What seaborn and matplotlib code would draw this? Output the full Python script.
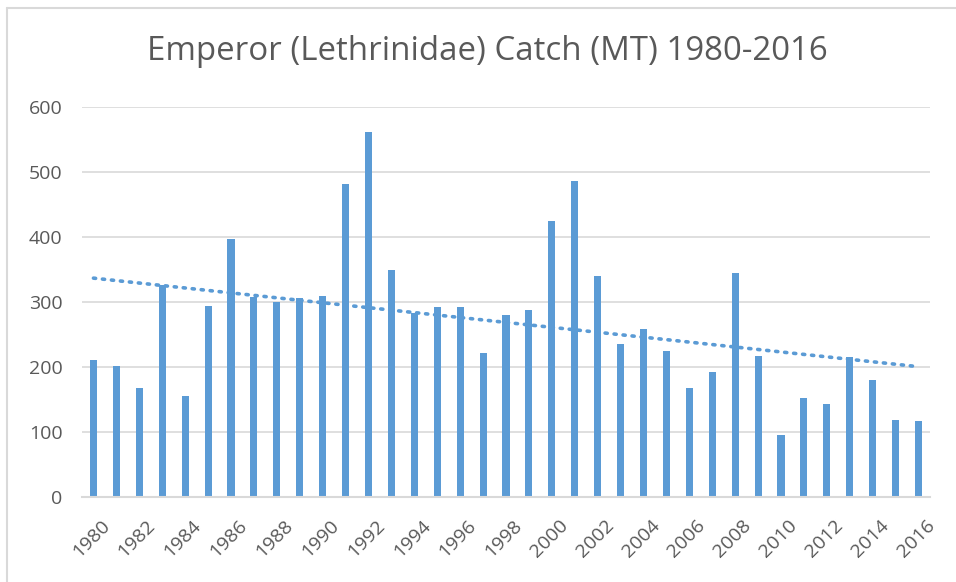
import numpy as np
import pandas as pd
import matplotlib
matplotlib.use("Agg")
import matplotlib.pyplot as plt
import matplotlib.transforms as mtrans
import seaborn as sns

years = list(range(1980, 2017))
catch = [211, 202, 168, 326, 155, 294, 397, 308, 300, 306, 310, 482,
         561, 350, 283, 292, 292, 221, 280, 287, 425, 486, 340, 235,
         259, 225, 168, 192, 344, 217, 95, 152, 143, 216, 180, 119, 117]
title = "Emperor (Lethrinidae) Catch (MT) 1980-2016"
yticks = [0, 100, 200, 300, 400, 500, 600]

BLUE = "#5b9bd5"
GRAY_TXT = "#595959"
GRID = "#d9d9d9"

sns.set_theme(style="white")
plt.rcParams['font.family'] = ['Open Sans', 'DejaVu Sans']

df = pd.DataFrame({"year": [str(y) for y in years], "catch": catch})

fig = plt.figure(figsize=(9.56, 5.82), dpi=100)
ax = fig.add_axes([82/956, 1-497/582, (930-82)/956, (497-107)/582])

sns.barplot(data=df, x="year", y="catch", color=BLUE, width=0.31,
            saturation=1, linewidth=0, ax=ax, zorder=3)

# linear trendline
idx = np.arange(len(years))
coef = np.polyfit(idx, np.array(catch, dtype=float), 1)
trend = np.polyval(coef, idx)
sns.lineplot(x=idx, y=trend, ax=ax, color=BLUE, linestyle=(0, (0.6, 1.9)),
             linewidth=2.6, dash_capstyle="round", zorder=4)

ax.set_xlim(-0.5, len(years) - 0.5)
ax.set_ylim(0, 600)
ax.set_yticks(yticks)
ax.set_yticklabels([str(t) for t in yticks])
ax.yaxis.grid(True, color=GRID, linewidth=1.2, zorder=0)
ax.set_axisbelow(True)

ax.set_xticks(idx[::2])
ax.set_xticklabels([str(y) for y in years[::2]], rotation=45, ha="right",
                   rotation_mode="anchor")
ax.tick_params(axis="x", length=0, pad=14, labelsize=14, labelcolor=GRAY_TXT)
ax.tick_params(axis="y", length=0, pad=14, labelsize=14, labelcolor=GRAY_TXT)
offset = mtrans.ScaledTranslation(7/100, 0, fig.dpi_scale_trans)
for lbl in ax.get_xticklabels():
    lbl.set_transform(lbl.get_transform() + offset)
ax.set_xlabel("")
ax.set_ylabel("")
for s in ["left", "right", "top"]:
    ax.spines[s].set_visible(False)
ax.spines["bottom"].set_color(GRID)
ax.spines["bottom"].set_linewidth(1.5)
ax.spines["bottom"].set_zorder(5)

fig.text(487/956, 1-51/582, title, ha="center", va="center",
         fontsize=23.8, color=GRAY_TXT)

# chart outer border (top and left visible)
fig.add_artist(plt.Line2D([6.5/956, 6.5/956], [0, 1-8/582],
                          transform=fig.transFigure, color=GRID, linewidth=1.5))
fig.add_artist(plt.Line2D([6.5/956, 1], [1-8/582, 1-8/582],
                          transform=fig.transFigure, color=GRID, linewidth=1.5))

fig.savefig("out.png", dpi=100, facecolor="white")
